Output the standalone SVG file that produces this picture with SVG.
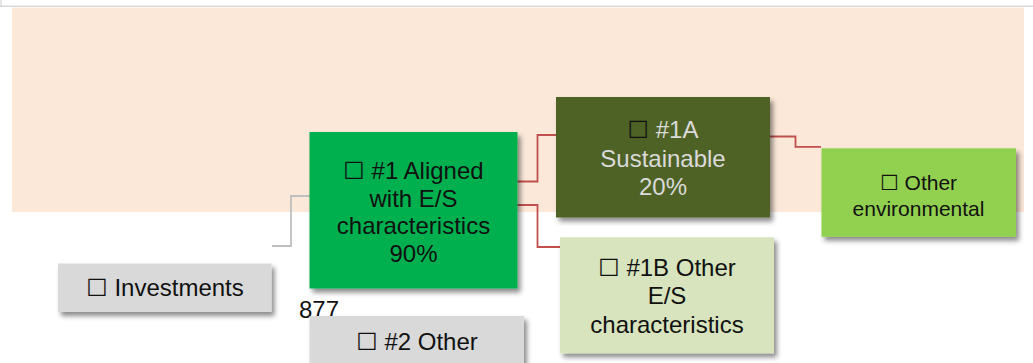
<svg xmlns="http://www.w3.org/2000/svg" width="1033" height="363" viewBox="0 0 1033 363">
<defs>
<filter id="sh" x="-10%" y="-10%" width="125%" height="130%">
<feDropShadow dx="3" dy="4" stdDeviation="2.5" flood-color="#000" flood-opacity="0.45"/>
</filter>
</defs>
<style>
text{font-family:"Liberation Sans","DejaVu Sans",Arial,sans-serif;font-size:24px;text-anchor:middle;fill:#111}
.lt{fill:#DADADA}
.bx{font-family:"DejaVu Sans",sans-serif}
.dk{fill:#111}
.cr{fill:none;stroke:#C0504D;stroke-width:1.8}
.cg{fill:none;stroke:#BFBFBF;stroke-width:1.8}
</style>
<rect x="0" y="0" width="1033" height="363" fill="#fff"/>
<line x1="0" y1="6.2" x2="1033" y2="6.2" stroke="#D9D9D9" stroke-width="1.6"/>
<line x1="1" y1="0" x2="1" y2="6" stroke="#CCCCCC" stroke-width="1"/>
<rect x="12" y="7.5" width="1012" height="204.5" fill="#FBE8D9"/>
<g id="connectors">
<polyline class="cg" points="272,246 291,246 291,196 310,196"/>
<polyline class="cr" points="517,181.5 537.5,181.5 537.5,135 556,135"/>
<polyline class="cr" points="517,205 537.5,205 537.5,247 560,247"/>
<polyline class="cr" points="770,136.5 795.5,136.5 795.5,146.8 821,146.8"/>
</g>
<g id="n877">
<text x="319" y="318" style="font-size:24px">877</text>
</g>
<g id="investments">
<rect x="58" y="263.5" width="213.5" height="48.5" fill="#D9D9D9" filter="url(#sh)"/>
<text x="165" y="296"><tspan class="bx">☐</tspan> Investments</text>
</g>
<g id="aligned">
<rect x="309.5" y="132" width="208" height="156.5" fill="#00B050" filter="url(#sh)"/>
<text x="413.5" y="179"><tspan class="bx">☐</tspan> #1 Aligned</text>
<text x="413.5" y="206.5">with E/S</text>
<text x="413.5" y="234">characteristics</text>
<text x="413.5" y="261.5">90%</text>
</g>
<g id="sustainable">
<rect x="556" y="97" width="214" height="120.5" fill="#4F6228" filter="url(#sh)"/>
<text x="663" y="138" class="lt"><tspan class="bx dk">☐</tspan> #1A</text>
<text x="663" y="166.5" class="lt">Sustainable</text>
<text x="663" y="194.5" class="lt">20%</text>
</g>
<g id="otherenv">
<rect x="821.5" y="148.3" width="194.5" height="88.5" fill="#92D050" filter="url(#sh)"/>
<text x="918.5" y="189.5" style="font-size:21px"><tspan class="bx">☐</tspan> Other</text>
<text x="918.5" y="215.5" style="font-size:21px">environmental</text>
</g>
<g id="otheres">
<rect x="560" y="237.3" width="214" height="116" fill="#D7E4BD" filter="url(#sh)"/>
<text x="667" y="276"><tspan class="bx">☐</tspan> #1B Other</text>
<text x="667" y="304">E/S</text>
<text x="667" y="333">characteristics</text>
</g>
<g id="other2">
<rect x="309.5" y="316" width="214.5" height="60" fill="#D9D9D9" filter="url(#sh)"/>
<text x="417" y="350"><tspan class="bx">☐</tspan> #2 Other</text>
</g>
</svg>
